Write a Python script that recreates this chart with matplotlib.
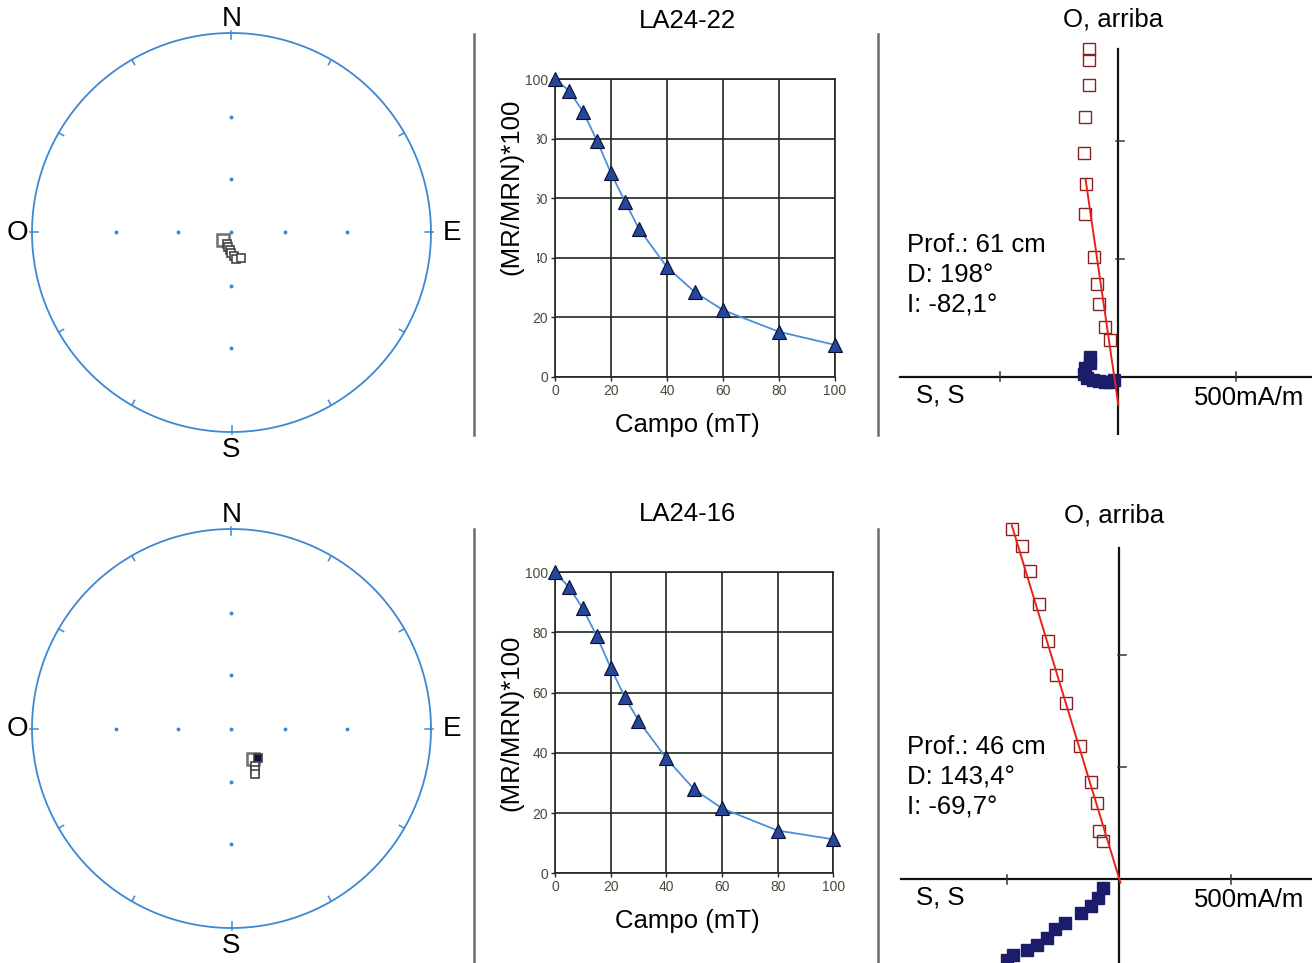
import matplotlib
matplotlib.use('Agg')
import matplotlib.pyplot as plt
import numpy as np
from matplotlib.lines import Line2D
from matplotlib.patches import Rectangle

plt.rcParams['font.family'] = ['Liberation Sans', 'DejaVu Sans']

W, H = 1312, 963
FS = 18.5

# AF demagnetisation curves
campo = [0, 5, 10, 15, 20, 25, 30, 40, 50, 60, 80, 100]
mr_la24_22 = [100, 96.2, 89.1, 79.4, 68.4, 58.9, 49.7, 36.8, 28.4, 22.4, 15.1, 10.7]
mr_la24_16 = [100, 95.1, 88.0, 78.8, 68.3, 58.7, 50.7, 38.2, 27.9, 21.6, 14.2, 11.3]
demag_ticks = [0, 20, 40, 60, 80, 100]

# stereonet directions (declination, inclination)
dec_22 = [230.2, 199.2, 191.7, 183.3, 180.0, 175.1, 171.4, 158.6]
inc_22 = [-83.3, -83.0, -81.5, -80.0, -78.3, -76.5, -74.7, -74.4]
dec_16 = [144.4, 138.5, 147.6, 150.8, 152.9]
inc_16 = [-69.0, 67.3, -65.2, -62.9, -61.0]

# Zijderveld projections (units of one tick)
ver_22_x = [-0.243, -0.243, -0.243, -0.280, -0.291, -0.274, -0.277, -0.206, -0.181, -0.161, -0.108, -0.068]
ver_22_y = [2.777, 2.686, 2.475, 2.200, 1.896, 1.633, 1.381, 1.020, 0.788, 0.619, 0.421, 0.314]
hor_22_x = [-0.237, -0.237, -0.280, -0.288, -0.263, -0.212, -0.161, -0.110, -0.068, -0.034]
hor_22_y = [0.169, 0.119, 0.076, 0.025, -0.008, -0.025, -0.034, -0.042, -0.042, -0.025]
fit_22_x = [-0.274, 0.003]
fit_22_y = [1.669, -0.237]

ver_16_x = [-0.958, -0.869, -0.801, -0.721, -0.640, -0.565, -0.480, -0.351, -0.253, -0.199, -0.179, -0.148]
ver_16_y = [3.125, 2.976, 2.756, 2.458, 2.131, 1.827, 1.577, 1.190, 0.872, 0.679, 0.435, 0.343]
hor_16_x = [-0.149, -0.188, -0.256, -0.342, -0.485, -0.574, -0.649, -0.738, -0.827, -0.946, -1.00]
hor_16_y = [-0.080, -0.170, -0.238, -0.304, -0.393, -0.446, -0.527, -0.586, -0.631, -0.676, -0.72]
fit_16_x = [-0.96, 0.01]
fit_16_y = [3.16, -0.03]

samples = ['LA24-22', 'LA24-16']
info = [['Prof.: 61 cm', 'D: 198°', 'I: -82,1°'],
        ['Prof.: 46 cm', 'D: 143,4°', 'I: -69,7°']]

fig = plt.figure(figsize=(W / 100, H / 100), dpi=100)


def px_axes(left, top, right, bottom):
    return fig.add_axes([left / W, 1 - bottom / H, (right - left) / W, (bottom - top) / H])


def ftext(x, y, s, **kw):
    fig.text(x / W, 1 - y / H, s, **kw)


def wulff(dec, inc):
    d = np.radians(dec)
    r = np.tan(np.radians(90 - np.abs(inc)) / 2)
    return r * np.sin(d), r * np.cos(d)


def stereonet(cx, cy, dec, inc):
    rad = 199.5
    ax = px_axes(cx - 1.15 * rad, cy - 1.15 * rad, cx + 1.15 * rad, cy + 1.15 * rad)
    ax.set_xlim(-1.15, 1.15)
    ax.set_ylim(-1.15, 1.15)
    ax.set_axis_off()
    blue = '#3d87d6'
    t = np.linspace(0, 2 * np.pi, 400)
    ax.plot(np.cos(t), np.sin(t), color=blue, lw=1.3)
    for a in range(0, 360, 30):
        s, c = np.sin(np.radians(a)), np.cos(np.radians(a))
        r1 = 1.012 if a % 90 == 0 else 1.0
        ax.plot([0.972 * s, r1 * s], [0.972 * c, r1 * c], color=blue, lw=1.1)
    for r in [0.268, 0.577]:
        ax.plot([0, 0, r, -r], [r, -r, 0, 0], ls='none', marker='o', ms=1.8, color=blue)
    ax.plot([0], [0], marker='o', ms=1.8, color=blue)
    ax.text(0, 1.07, 'N', ha='center', va='center', fontsize=20)
    ax.text(0, -1.09, 'S', ha='center', va='center', fontsize=20)
    ax.text(-1.075, 0, 'O', ha='center', va='center', fontsize=20)
    ax.text(1.105, 0, 'E', ha='center', va='center', fontsize=20)
    x, y = wulff(np.array(dec), np.array(inc))
    ax.plot(x, y, color='#4a90e2', lw=1.0, zorder=3)
    for i in range(len(x)):
        big = i == 0
        fc = '#101040' if inc[i] > 0 else 'white'
        ax.plot(x[i], y[i], marker='s', ms=8 if big else 5.5, mfc=fc,
                mec='#6e6e6e' if big else '#444444', mew=1.8 if big else 1.2, zorder=4)


def demag(left, top, right, bottom, vals, title, ylab_y, ylab_cover):
    ax = px_axes(left, top, right, bottom)
    ax.set_xlim(0, 100)
    ax.set_ylim(0, 100)
    ax.set_xticks(demag_ticks)
    ax.set_yticks(demag_ticks)
    ax.grid(True, color='#1c2a1c', lw=1.2)
    for sp in ax.spines.values():
        sp.set_color('#1c2a1c')
        sp.set_linewidth(1.2)
    ax.tick_params(labelsize=10, colors='#1c2a1c', labelcolor='#4a4a3a', length=3, width=1, pad=2)
    ax.plot(campo, vals, color='#4a90d9', lw=1.3, clip_on=False, zorder=3)
    ax.plot(campo, vals, ls='none', marker='^', ms=9.5, mfc='#25479b', mec='#0b0b30',
            mew=0.8, clip_on=False, zorder=4)
    ftext(687, top - 58, title, ha='center', va='center', fontsize=FS)
    ftext(687, bottom + 48, 'Campo (mT)', ha='center', va='center', fontsize=FS)
    if ylab_cover:
        fig.patches.append(Rectangle((495 / W, 1 - 282 / H), 42 / W, 185 / H,
                                     transform=fig.transFigure, fc='white', ec='none', zorder=5))
    ftext(511, ylab_y, '(MR/MRN)*100', ha='center', va='center', rotation=90, fontsize=FS, zorder=6)


def zijderveld(ox, oy, s, left, top, right, bottom, axis_top, axis_left,
               vx, vy, hx, hy, fx, fy, lines, title_y):
    ax = px_axes(left, top, right, bottom)
    ax.set_xlim((left - ox) / s, (right - ox) / s)
    ax.set_ylim((oy - bottom) / s, (oy - top) / s)
    ax.set_axis_off()
    ax.plot([(axis_left - ox) / s, (right - ox) / s], [0, 0], color='#111111', lw=1.6)
    ax.plot([0, 0], [(oy - bottom) / s, (oy - axis_top) / s], color='#111111', lw=1.6)
    tk = 4.5 / s
    for v in [-1, 1]:
        ax.plot([v, v], [-tk, tk], color='#333333', lw=1.1)
    for v in [1, 2]:
        ax.plot([-tk * 0.4, tk * 1.4], [v, v], color='#333333', lw=1.1)
    ax.plot(hx, hy, ls='none', marker='s', ms=8.5, mfc='#1b1d6b', mec='#1b1d6b', zorder=3)
    ax.plot(vx, vy, ls='none', marker='s', ms=8, mfc='none', mec='#8c2020', mew=1.0, zorder=3)
    ax.plot(fx, fy, color='#e8221a', lw=1.4, zorder=4)
    ftext(ox - 5, title_y, 'O, arriba', ha='center', va='center', fontsize=FS)
    ftext(940, oy + 18, 'S, S', ha='center', va='center', fontsize=FS)
    ftext(1249, oy + 21, '500mA/m', ha='center', va='center', fontsize=FS)
    for k, line in enumerate(lines):
        ftext(907, oy - 132 + 30 * k, line, ha='left', va='center', fontsize=FS)


# top row: LA24-22
stereonet(231.5, 232.5, dec_22, inc_22)
demag(555, 79.3, 835, 376.7, mr_la24_22, samples[0], 187, True)
zijderveld(1118, 377, 118, 880, 30, 1312, 435, 49, 900,
           ver_22_x, ver_22_y, hor_22_x, hor_22_y, fit_22_x, fit_22_y, info[0], 20)

# bottom row: LA24-16
stereonet(231.5, 728.5, dec_16, inc_16)
demag(555, 572.3, 833.3, 873.3, mr_la24_16, samples[1], 723, False)
zijderveld(1119.3, 879.3, 112, 880, 520, 1312, 963, 548, 901,
           ver_16_x, ver_16_y, hor_16_x, hor_16_y, fit_16_x, fit_16_y, info[1], 516)

# separators
for x in [474, 878]:
    fig.add_artist(Line2D([x / W, x / W], [1 - 34 / H, 1 - 435 / H], color='#6b6b6b', lw=1.8))
    fig.add_artist(Line2D([x / W, x / W], [1 - 529 / H, 0], color='#6b6b6b', lw=1.8))

fig.savefig('out.png', dpi=100)
